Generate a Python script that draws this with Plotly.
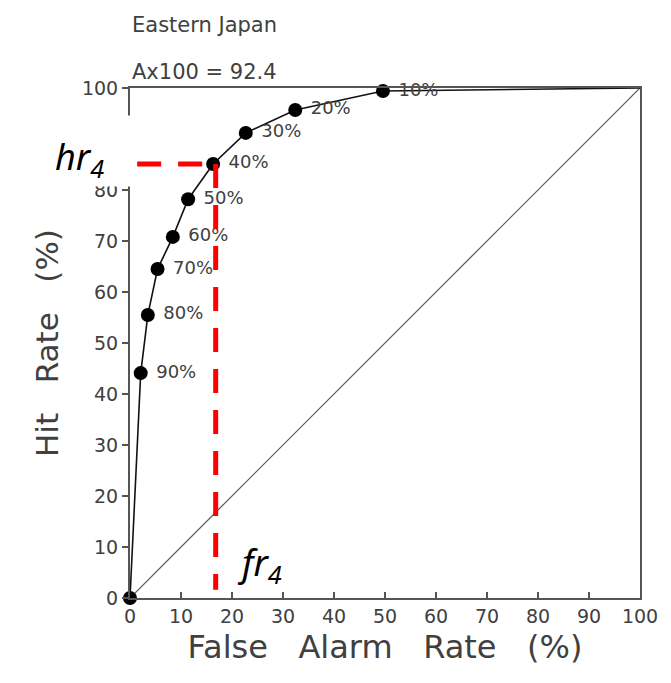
import plotly.graph_objects as go

# ROC curve data (False Alarm Rate %, Hit Rate %)
far = [0, 2.1, 3.5, 5.4, 8.4, 11.4, 16.3, 22.7, 32.4, 49.6, 100]
hr = [0, 44.1, 55.5, 64.5, 70.8, 78.2, 85.1, 91.2, 95.7, 99.4, 100]
point_labels = ["", "90%", "80%", "70%", "60%", "50%", "40%", "30%", "20%", "10%", ""]
diag = [0, 100]
ticks = [0, 10, 20, 30, 40, 50, 60, 70, 80, 90, 100]
title1 = "Eastern Japan"
title2 = "Ax100 = 92.4"
fr4 = 16.8
hr4 = 85.1

GRAY = "#404040"
FONT = "DejaVu Sans"
SP = "\u00a0"

fig = go.Figure()

# diagonal no-skill line
fig.add_trace(go.Scatter(x=diag, y=diag, mode="lines",
                         line=dict(color="#555", width=1.2), hoverinfo="skip"))

# ROC curve line
fig.add_trace(go.Scatter(x=far, y=hr, mode="lines",
                         line=dict(color="#111", width=1.6), hoverinfo="skip",
                         cliponaxis=False))

# markers (exclude the end point at 100,100)
fig.add_trace(go.Scatter(x=far[:-1], y=hr[:-1], mode="markers+text",
                         marker=dict(color="black", size=14),
                         text=[SP + t if t else "" for t in point_labels[:-1]],
                         textposition="middle right",
                         textfont=dict(family=FONT, size=18, color=GRAY),
                         hoverinfo="skip", cliponaxis=False))

# red dashed guide lines
fig.add_trace(go.Scatter(x=[1.4, far[6]], y=[hr4, hr4], mode="lines",
                         line=dict(color="red", width=5, dash="24px,17px"),
                         hoverinfo="skip", cliponaxis=False))
fig.add_trace(go.Scatter(x=[fr4, fr4], y=[hr4, 1.6], mode="lines",
                         line=dict(color="red", width=5, dash="24px,17px"),
                         hoverinfo="skip", cliponaxis=False))

axis_common = dict(range=[0, 100], tickvals=ticks, showgrid=False, zeroline=False,
                   showline=True, linecolor="#555", linewidth=2, mirror=True,
                   ticklen=6, tickcolor="#555", tickwidth=1.5,
                   tickfont=dict(family=FONT, size=19, color=GRAY))

fig.update_layout(
    width=671, height=683,
    margin=dict(l=130, r=31, t=88, b=85),
    plot_bgcolor="white", paper_bgcolor="white",
    showlegend=False,
    xaxis=dict(**axis_common, ticks="inside",
               title=dict(text=f"False{SP*3}Alarm{SP*3}Rate{SP*3}(%)",
                          font=dict(family=FONT, size=32, color=GRAY), standoff=10)),
    yaxis=dict(**axis_common, ticks="outside",
               title=dict(text=f"Hit{SP*3}Rate{SP*3}(%)",
                          font=dict(family=FONT, size=31, color=GRAY), standoff=14)),
    annotations=[
        dict(text=title1, xref="paper", yref="paper", x=0.0, y=1.0, yshift=63,
             xanchor="left", yanchor="middle", showarrow=False,
             font=dict(family=FONT, size=21, color=GRAY)),
        dict(text=title2, xref="paper", yref="paper", x=0.0, y=1.0, yshift=16,
             xanchor="left", yanchor="middle", showarrow=False,
             font=dict(family=FONT, size=21, color=GRAY)),
        dict(text="<i>hr<sub>4</sub></i>", xref="paper", yref="y", x=0.006, y=87.6,
             xanchor="right", yanchor="middle", showarrow=False,
             width=76, height=68, align="left", valign="bottom",
             bgcolor="white", borderpad=1,
             font=dict(family="Noto Sans", size=36, color="black")),
        dict(text="<i>fr<sub>4</sub></i>", xref="x", yref="y", x=20.5, y=6.5,
             xanchor="left", yanchor="middle", showarrow=False,
             font=dict(family="Noto Sans", size=36, color="black")),
    ],
)

fig.write_html("out.html")
